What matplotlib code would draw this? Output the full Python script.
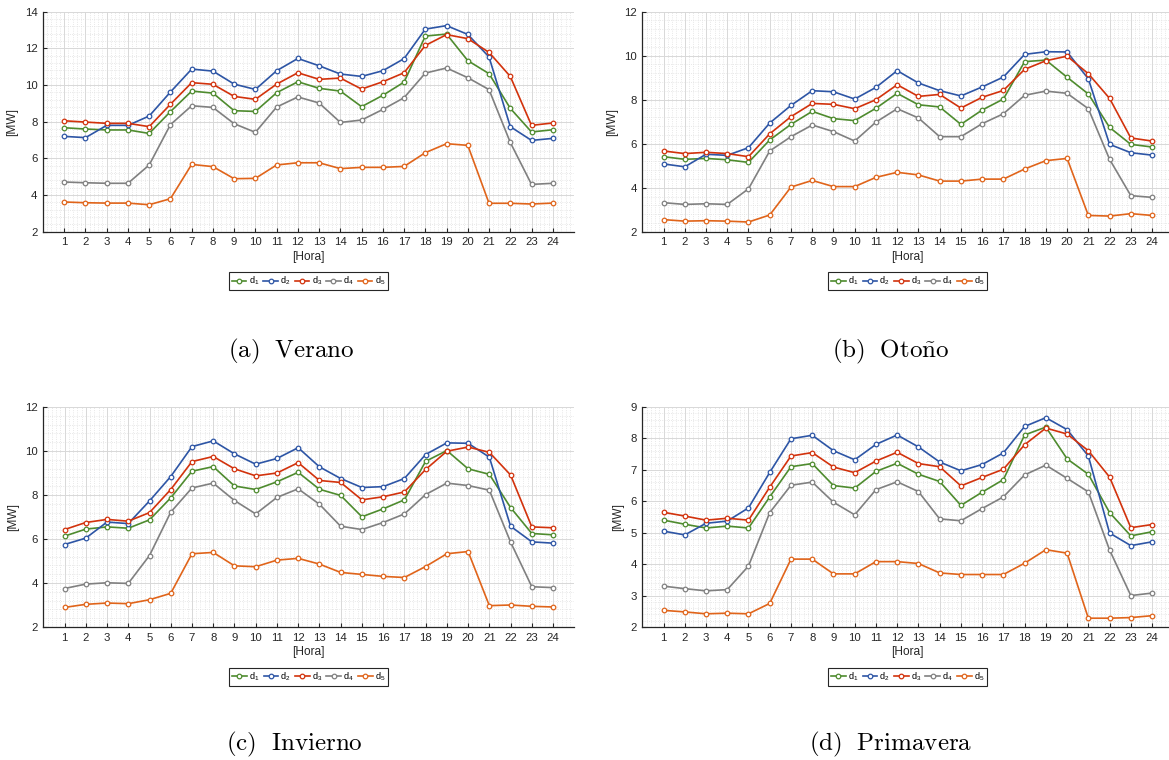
import numpy as np
import matplotlib
matplotlib.use('Agg')
import matplotlib.pyplot as plt
from matplotlib.ticker import MultipleLocator

plt.rcParams['font.family'] = ['Liberation Sans', 'DejaVu Sans']
plt.rcParams['mathtext.fontset'] = 'custom'
plt.rcParams['mathtext.rm'] = 'Liberation Sans'
plt.rcParams['mathtext.it'] = 'Liberation Sans'

horas = list(range(1, 25))

# demanda por hora [MW], cinco perfiles por estacion
verano_d1 = [7.67, 7.60, 7.55, 7.55, 7.36, 8.55, 9.67, 9.56, 8.60, 8.56, 9.58, 10.18, 9.82, 9.67, 8.82, 9.44, 10.16, 12.67, 12.78, 11.33, 10.62, 8.73, 7.44, 7.56]
verano_d2 = [7.20, 7.13, 7.80, 7.80, 8.31, 9.62, 10.87, 10.76, 10.05, 9.76, 10.78, 11.45, 11.05, 10.60, 10.47, 10.78, 11.44, 13.05, 13.24, 12.76, 11.53, 7.73, 6.98, 7.09]
verano_d3 = [8.05, 7.98, 7.91, 7.91, 7.73, 8.95, 10.13, 10.04, 9.38, 9.22, 10.05, 10.67, 10.31, 10.38, 9.78, 10.18, 10.67, 12.16, 12.75, 12.53, 11.78, 10.47, 7.80, 7.93]
verano_d4 = [4.71, 4.67, 4.64, 4.64, 5.64, 7.84, 8.87, 8.78, 7.89, 7.42, 8.80, 9.35, 9.02, 7.96, 8.09, 8.67, 9.31, 10.65, 10.93, 10.40, 9.75, 6.87, 4.58, 4.64]
verano_d5 = [3.62, 3.58, 3.56, 3.56, 3.47, 3.80, 5.67, 5.55, 4.89, 4.91, 5.64, 5.76, 5.76, 5.44, 5.51, 5.51, 5.56, 6.31, 6.80, 6.71, 3.55, 3.55, 3.51, 3.56]

otono_d1 = [5.41, 5.29, 5.33, 5.27, 5.15, 6.17, 6.88, 7.47, 7.14, 7.05, 7.61, 8.29, 7.77, 7.67, 6.88, 7.53, 8.03, 9.73, 9.80, 9.02, 8.26, 6.74, 5.97, 5.85]
otono_d2 = [5.08, 4.95, 5.52, 5.47, 5.82, 6.94, 7.74, 8.41, 8.36, 8.03, 8.56, 9.32, 8.76, 8.41, 8.17, 8.58, 9.03, 10.06, 10.18, 10.17, 8.95, 5.97, 5.59, 5.48]
otono_d3 = [5.67, 5.55, 5.61, 5.55, 5.41, 6.45, 7.23, 7.83, 7.79, 7.59, 8.00, 8.68, 8.15, 8.24, 7.62, 8.11, 8.42, 9.38, 9.77, 9.98, 9.18, 8.06, 6.26, 6.12]
otono_d4 = [3.32, 3.24, 3.27, 3.24, 3.95, 5.67, 6.32, 6.85, 6.55, 6.12, 6.98, 7.59, 7.17, 6.32, 6.32, 6.91, 7.36, 8.20, 8.39, 8.29, 7.59, 5.29, 3.64, 3.56]
otono_d5 = [2.55, 2.48, 2.50, 2.48, 2.44, 2.76, 4.03, 4.33, 4.05, 4.05, 4.47, 4.70, 4.58, 4.30, 4.30, 4.39, 4.39, 4.85, 5.23, 5.33, 2.74, 2.71, 2.82, 2.74]

invierno_d1 = [6.13, 6.45, 6.55, 6.49, 6.87, 7.87, 9.08, 9.29, 8.41, 8.25, 8.60, 9.03, 8.26, 7.98, 7.01, 7.37, 7.78, 9.53, 10.02, 9.19, 8.94, 7.43, 6.25, 6.19]
invierno_d2 = [5.75, 6.04, 6.77, 6.70, 7.73, 8.84, 10.20, 10.46, 9.87, 9.40, 9.66, 10.15, 9.28, 8.75, 8.34, 8.38, 8.75, 9.84, 10.37, 10.35, 9.72, 6.58, 5.87, 5.81]
invierno_d3 = [6.43, 6.75, 6.89, 6.81, 7.20, 8.25, 9.52, 9.75, 9.19, 8.87, 9.00, 9.47, 8.66, 8.57, 7.78, 7.92, 8.14, 9.16, 9.99, 10.18, 9.94, 8.91, 6.55, 6.51]
invierno_d4 = [3.75, 3.95, 4.01, 3.98, 5.25, 7.22, 8.32, 8.54, 7.75, 7.14, 7.89, 8.28, 7.58, 6.58, 6.43, 6.75, 7.14, 8.02, 8.54, 8.43, 8.22, 5.86, 3.83, 3.79]
invierno_d5 = [2.89, 3.03, 3.09, 3.06, 3.24, 3.53, 5.33, 5.39, 4.78, 4.74, 5.04, 5.12, 4.86, 4.48, 4.39, 4.30, 4.25, 4.75, 5.33, 5.43, 2.97, 3.00, 2.94, 2.91]

primavera_d1 = [5.40, 5.27, 5.15, 5.21, 5.15, 6.14, 7.10, 7.20, 6.50, 6.42, 6.95, 7.21, 6.86, 6.63, 5.87, 6.29, 6.69, 8.11, 8.36, 7.35, 6.86, 5.64, 4.90, 5.03]
primavera_d2 = [5.05, 4.93, 5.30, 5.37, 5.79, 6.92, 7.99, 8.10, 7.61, 7.32, 7.81, 8.11, 7.73, 7.25, 6.97, 7.17, 7.54, 8.38, 8.66, 8.28, 7.44, 4.99, 4.59, 4.71]
primavera_d3 = [5.65, 5.53, 5.40, 5.46, 5.40, 6.45, 7.44, 7.55, 7.09, 6.91, 7.28, 7.56, 7.20, 7.10, 6.49, 6.76, 7.02, 7.80, 8.33, 8.14, 7.61, 6.77, 5.16, 5.26]
primavera_d4 = [3.30, 3.22, 3.15, 3.19, 3.94, 5.64, 6.51, 6.61, 5.97, 5.57, 6.37, 6.62, 6.31, 5.44, 5.38, 5.77, 6.14, 6.84, 7.15, 6.73, 6.30, 4.45, 3.00, 3.08]
primavera_d5 = [2.53, 2.48, 2.42, 2.44, 2.42, 2.75, 4.16, 4.16, 3.69, 3.69, 4.08, 4.08, 4.02, 3.72, 3.67, 3.67, 3.67, 4.03, 4.46, 4.35, 2.28, 2.28, 2.30, 2.36]

etiquetas = ['d$_1$', 'd$_2$', 'd$_3$', 'd$_4$', 'd$_5$']
colores = ['#4e8b2e', '#2d55a5', '#d2320c', '#808080', '#e0641a']
oscuro = '#262626'

fig = plt.figure(figsize=(11.69, 7.60), dpi=100)


def panel(pos, series, ymax, ymaj, ymin):
    ax = fig.add_axes(pos)
    for s, c, lab in zip(series, colores, etiquetas):
        ax.plot(horas, s, color=c, lw=1.2, marker='o', ms=3.3, mfc='white',
                mec=c, mew=0.9, label=lab)
    ax.set_xlim(0, 25)
    ax.set_ylim(2, ymax)
    ax.set_xticks(horas)
    ax.yaxis.set_major_locator(MultipleLocator(ymaj))
    ax.yaxis.set_minor_locator(MultipleLocator(ymin))
    ax.xaxis.set_minor_locator(MultipleLocator(0.2))
    ax.grid(True, which='major', color='#d8d8d8', lw=0.7)
    ax.grid(True, which='minor', color='#e0e0e0', lw=0.6, ls=':')
    ax.set_axisbelow(True)
    for lado in ['top', 'right']:
        ax.spines[lado].set_visible(False)
    for lado in ['left', 'bottom']:
        ax.spines[lado].set_color(oscuro)
        ax.spines[lado].set_linewidth(0.9)
    ax.tick_params(which='major', direction='in', length=3, width=0.8,
                   colors=oscuro, labelsize=8.2, pad=4)
    ax.tick_params(which='minor', length=0)
    ax.set_xlabel('[Hora]', fontsize=8.6, color=oscuro, labelpad=2.5)
    ax.set_ylabel('[MW]', fontsize=8.6, color=oscuro, labelpad=4.5)
    leg = ax.legend(loc='center', bbox_to_anchor=(0.5, -0.225), ncol=5,
                    fontsize=6.6, handlelength=1.6, handletextpad=0.25,
                    columnspacing=0.45, borderpad=0.3, fancybox=False,
                    framealpha=1, edgecolor=oscuro)
    leg.get_frame().set_linewidth(0.8)
    return ax


w = 531 / 1169
h = 220 / 760
panel([43 / 1169, 1 - 231.7 / 760, w, h],
      [verano_d1, verano_d2, verano_d3, verano_d4, verano_d5], 14, 2, 0.4)
panel([642.3 / 1169, 1 - 231.7 / 760, w, h],
      [otono_d1, otono_d2, otono_d3, otono_d4, otono_d5], 12, 2, 0.4)
panel([43.3 / 1169, 1 - 627 / 760, w, h],
      [invierno_d1, invierno_d2, invierno_d3, invierno_d4, invierno_d5], 12, 2, 0.4)
panel([642.3 / 1169, 1 - 627 / 760, w, h],
      [primavera_d1, primavera_d2, primavera_d3, primavera_d4, primavera_d5], 9, 1, 0.2)

# subtitulos de cada estacion
subtitulos = [(291, 351, r'$\mathrm{(a)\ \ Verano}$'),
              (891, 351, r'$\mathrm{(b)\ \ Oto\tilde{n}o}$'),
              (294, 744, r'$\mathrm{(c)\ \ Invierno}$'),
              (891, 744, r'$\mathrm{(d)\ \ Primavera}$')]
for x, y, t in subtitulos:
    fig.text(x / 1169, 1 - y / 760, t, ha='center', va='center',
             fontsize=18, math_fontfamily='cm', color='black')

fig.savefig('out.png', dpi=100)
